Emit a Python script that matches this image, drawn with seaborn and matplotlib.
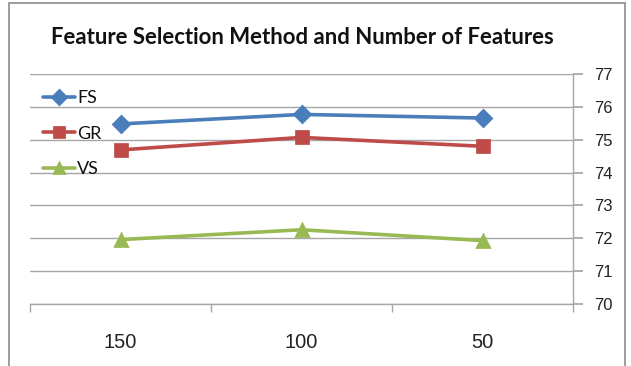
import matplotlib
matplotlib.use("Agg")
import matplotlib.pyplot as plt
import seaborn as sns
import pandas as pd
from matplotlib.patches import Rectangle
from matplotlib.ticker import FixedLocator

# Number of features kept by each selection method
feature_counts = ["150", "100", "50"]
fs_values = [75.48, 75.77, 75.66]
gr_values = [74.69, 75.07, 74.80]
vs_values = [71.96, 72.26, 71.93]
methods = ["FS", "GR", "VS"]
y_ticks = [70, 71, 72, 73, 74, 75, 76, 77]

df = pd.DataFrame({
    "features": feature_counts * 3,
    "accuracy": fs_values + gr_values + vs_values,
    "method": [m for m in methods for _ in feature_counts],
})

sns.set_theme(style="white")
plt.rcParams["font.family"] = ["Liberation Sans", "DejaVu Sans"]

palette = {"FS": "#4A7EBB", "GR": "#BE4B48", "VS": "#98B954"}

fig = plt.figure(figsize=(6.31, 3.66), dpi=100)
ax = fig.add_axes([30 / 631, 1 - 304 / 366, 543 / 631, 230 / 366])

sns.pointplot(data=df, x="features", y="accuracy", hue="method",
              order=feature_counts, hue_order=methods, palette=palette,
              markers=["D", "s", "^"], markersize=8, linewidth=2.6,
              linestyles="-", errorbar=None, ax=ax)

ax.set_xlim(-0.5, len(feature_counts) - 0.5)
ax.set_ylim(y_ticks[0], y_ticks[-1])
ax.set_yticks(y_ticks)
ax.yaxis.tick_right()
ax.yaxis.grid(True, color="#A6A6A6", linewidth=1)
ax.set_axisbelow(True)
ax.tick_params(axis="y", which="major", right=True, length=7, color="#A6A6A6",
               labelsize=12, pad=8, labelcolor="#222222")
ax.tick_params(axis="x", which="major", bottom=False, labelsize=14.5, pad=15,
               labelcolor="#222222")
ax.xaxis.set_minor_locator(FixedLocator([-0.5, 0.5, 1.5, 2.5]))
ax.tick_params(axis="x", which="minor", bottom=True, length=6, color="#A6A6A6",
               width=1)
ax.set_xlabel("")
ax.set_ylabel("")

for side in ["top", "left"]:
    ax.spines[side].set_visible(False)
for side in ["right", "bottom"]:
    ax.spines[side].set_color("#A6A6A6")
    ax.spines[side].set_linewidth(1)

leg = ax.legend(loc="upper left", bbox_to_anchor=(0.0, 0.985), frameon=False,
                handlelength=1.8, handletextpad=0.1, labelspacing=1.08,
                borderaxespad=0.3, markerscale=0.9,
                prop={"family": "Lato", "size": 13})
for t in leg.get_texts():
    t.set_color("#111111")

fig.text(302 / 631, 1 - 44 / 366, "Feature Selection Method and Number of Features",
         ha="center", va="baseline", fontsize=15.9, fontweight="bold",
         family="Lato", color="#111111")

fig.patches.append(Rectangle((9 / 631, -0.1), 616 / 631, 1.1 - 3 / 366,
                             transform=fig.transFigure, fill=False,
                             edgecolor="#8C8C8C", linewidth=1.2))

fig.savefig("out.png", dpi=100)
